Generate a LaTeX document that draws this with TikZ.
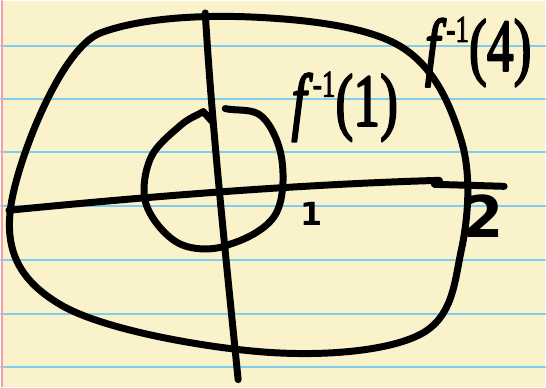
\documentclass[tikz,border=0pt]{standalone}
\usepackage{fontspec}
\setsansfont{DejaVu Sans}
\newfontfamily\handfont[FakeBold=3]{Liberation Serif}
\definecolor{paper}{RGB}{249,242,202}
\definecolor{rule}{RGB}{128,205,238}
\definecolor{margin}{RGB}{240,160,172}
\newcommand\handsup[1]{\kern0.12em\raisebox{0.39em}{\fontsize{38}{38}\selectfont #1}}
\tikzset{
  ink/.style={line width=7bp},
  hand/.style={inner sep=0pt,font=\fontsize{75}{75}\selectfont\handfont},
  digit/.style={inner sep=0pt,font=\sffamily\bfseries}
}
\begin{document}
\begin{tikzpicture}[yscale=-1,line cap=round,line join=round]
%%
\fill [paper] (0bp,0bp) rectangle (546bp,387bp);
\foreach \y in {45,98.5,152,206,260,314,367}
  \draw [rule,line width=2bp] (0bp,\y bp) -- (546bp,\y bp);
\draw [margin,line width=2bp] (1bp,0bp) -- (1bp,387bp);
%
  \draw [ink] (10bp,205bp) ..controls (16.7bp,159.5bp) and (60bp,47bp) .. (100bp,32bp) ..controls (140bp,17bp) and (200bp,14bp) .. (250bp,16bp) ..controls (300bp,18.2bp) and (364.7bp,24.3bp) .. (400bp,45bp) ..controls (435.3bp,65.7bp) and (451.7bp,105.8bp) .. (462bp,140bp) ..controls (472.3bp,174.2bp) and (469bp,217.5bp) .. (462bp,250bp) ..controls (455bp,282.5bp) and (453.7bp,318bp) .. (420bp,335bp) ..controls (386.3bp,352bp) and (320bp,357bp) .. (260bp,352bp) ..controls (200bp,347bp) and (101.7bp,329.5bp) .. (60bp,305bp) ..controls (18.3bp,280.5bp) and (3.3bp,250.5bp) .. (10bp,205bp) -- cycle;
  \draw [ink] (225bp,108bp) ..controls (237.3bp,110.7bp) and (252.5bp,107.3bp) .. (262bp,116bp) ..controls (271.5bp,124.7bp) and (279.8bp,143.5bp) .. (282bp,160bp) ..controls (284.2bp,176.5bp) and (283.7bp,201bp) .. (275bp,215bp) ..controls (266.3bp,229bp) and (245.8bp,239.2bp) .. (230bp,244bp) ..controls (216bp,250.5bp) and (194bp,250.5bp) .. (180bp,244bp) ..controls (166bp,237.5bp) and (151bp,219.3bp) .. (146bp,205bp) ..controls (141bp,190.7bp) and (144.3bp,171.3bp) .. (150bp,158bp) ..controls (155.7bp,144.7bp) and (171.2bp,132.8bp) .. (180bp,125bp) ..controls (188.8bp,117.2bp) and (195.3bp,115.7bp) .. (203bp,111bp) -- (212bp,121bp);
  \draw [ink] (8bp,210bp) ..controls (150bp,196bp) and (300bp,184bp) .. (440bp,180bp);
  \draw [ink] (435bp,184bp) -- (505bp,186bp);
  \draw [ink] (205bp,12bp) ..controls (212bp,130bp) and (226bp,260bp) .. (238bp,380bp);
%
  \node (lblA) at (345bp,106bp) [hand] {\scalebox{0.72}[1]{\itshape f\upshape\handsup{-1}(1)}};
  \node (lblB) at (479bp,51bp) [hand] {\scalebox{0.72}[1]{\itshape f\upshape\handsup{-1}(4)}};
  \node (one) at (312bp,214bp) [digit,font=\fontsize{32}{32}\selectfont\sffamily\bfseries] {1};
  \node (two) at (484bp,216bp) [digit,font=\fontsize{58}{58}\selectfont\sffamily\bfseries] {2};
%
\end{tikzpicture}
\end{document}
